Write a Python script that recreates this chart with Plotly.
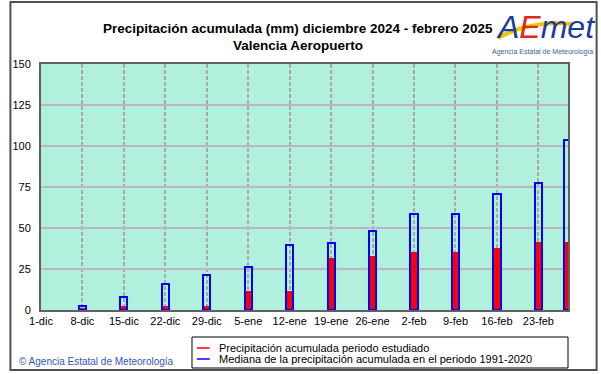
import plotly.graph_objects as go

# ---- data ----
dates = ["2024-12-08", "2024-12-15", "2024-12-22", "2024-12-29", "2025-01-05",
         "2025-01-12", "2025-01-19", "2025-01-26", "2025-02-02", "2025-02-09",
         "2025-02-16", "2025-02-23", "2025-02-28"]
observed = [1.4, 2.6, 2.6, 2.6, 11.6, 11.6, 31.7, 32.9, 35.5, 35.5, 37.8, 41.3, 41.5]
median = [2.4, 7.9, 15.7, 21.3, 26.0, 39.8, 41.0, 48.4, 58.5, 58.5, 70.9, 77.4, 103.9]
tick_dates = ["2024-12-01", "2024-12-08", "2024-12-15", "2024-12-22", "2024-12-29",
              "2025-01-05", "2025-01-12", "2025-01-19", "2025-01-26", "2025-02-02",
              "2025-02-09", "2025-02-16", "2025-02-23"]
tick_labels = ["1-dic", "8-dic", "15-dic", "22-dic", "29-dic", "5-ene", "12-ene",
               "19-ene", "26-ene", "2-feb", "9-feb", "16-feb", "23-feb"]
y_ticks = [0, 25, 50, 75, 100, 125, 150]
legend_labels = ["Precipitación acumulada periodo estudiado",
                 "Mediana de la precipitación acumulada en el periodo 1991-2020"]
title_lines = ["Precipitación acumulada (mm) diciembre 2024 - febrero 2025",
               "Valencia Aeropuerto"]

W, H = 601, 374
L, R, T, B = 34, 568, 64, 310
DAY = 86400000
FONT = "Liberation Sans, Arial, sans-serif"


def px(p):
    return (p - L) / (R - L)


def py(p):
    return (B - p) / (B - T)


fig = go.Figure()
fig.add_trace(go.Bar(x=dates, y=observed, width=[1.0 * DAY] * len(dates),
                     marker=dict(color="#ff0000", line=dict(width=0)),
                     showlegend=False))
fig.add_trace(go.Bar(x=dates, y=median, width=[1.2 * DAY] * len(dates),
                     marker=dict(color="rgba(0,0,0,0)", line=dict(color="#0000ff", width=2)),
                     showlegend=False))

shapes = []
annotations = []

# outer frame
shapes.append(dict(type="rect", xref="paper", yref="paper",
                   x0=px(3), x1=px(597), y0=py(2), y1=py(370),
                   line=dict(color="#505050", width=2)))

# legend box
shapes.append(dict(type="rect", xref="paper", yref="paper",
                   x0=px(187), x1=px(568), y0=py(337), y1=py(368),
                   line=dict(color="#000000", width=1), fillcolor="white"))
for yy, col, txt in [(348, "#ff0000", legend_labels[0]), (359, "#0000ff", legend_labels[1])]:
    shapes.append(dict(type="line", xref="paper", yref="paper",
                       x0=px(192), x1=px(205), y0=py(yy), y1=py(yy),
                       line=dict(color=col, width=1.5)))
    annotations.append(dict(text=txt, xref="paper", yref="paper",
                            x=px(212), y=py(yy), xanchor="left", yanchor="middle",
                            showarrow=False, font=dict(size=11, color="#000000", family=FONT)))

# title
for txt, yy in [(title_lines[0], 29), (title_lines[1], 46)]:
    annotations.append(dict(text="<b>" + txt + "</b>", xref="paper", yref="paper",
                            x=px(294), y=py(yy), xanchor="center", yanchor="middle",
                            showarrow=False,
                            font=dict(size=13.5, color="#000000", family=FONT)))

# copyright
annotations.append(dict(text="© Agencia Estatal de Meteorología", xref="paper", yref="paper",
                        x=px(10), y=py(361), xanchor="left", yanchor="middle",
                        showarrow=False,
                        font=dict(size=10, color="#3355bb", family=FONT)))

# logo
shapes.append(dict(type="path", xref="paper", yref="paper",
                   path="M {},{} Q {},{} {},{}".format(px(497), py(38), px(530), py(20),
                                                      px(572), py(24)),
                   line=dict(color="#f5c400", width=4)))
annotations.append(dict(text="<i><span style='color:#1a3c9c'>A</span>"
                             "<span style='color:#e02818'>E</span>"
                             "<span style='color:#1a3c9c'>met</span></i>",
                        xref="paper", yref="paper", x=px(545), y=py(27),
                        xanchor="center", yanchor="middle", showarrow=False,
                        font=dict(size=32, family=FONT)))
annotations.append(dict(text="Agencia Estatal de Meteorología", xref="paper", yref="paper",
                        x=px(542), y=py(52), xanchor="center", yanchor="middle",
                        showarrow=False,
                        font=dict(size=7, color="#4060a0", family=FONT)))

fig.update_layout(
    width=W, height=H,
    margin=dict(l=L, r=W - R, t=T, b=H - B, pad=0),
    paper_bgcolor="white",
    plot_bgcolor="#b0f0dc",
    barmode="overlay",
    bargap=0,
    showlegend=False,
    shapes=shapes,
    annotations=annotations,
    xaxis=dict(type="date", range=["2024-12-01", "2025-02-28"],
               tickmode="array", tickvals=tick_dates, ticktext=tick_labels,
               showgrid=True, gridcolor="#aaaaaa", gridwidth=1.5, griddash="4px,2px",
               showline=True, linecolor="#606060", linewidth=2, mirror=True,
               ticks="", tickfont=dict(size=11, color="#000000", family=FONT),
               fixedrange=True),
    yaxis=dict(range=[0, 150], tickmode="array", tickvals=y_ticks,
               showgrid=True, gridcolor="#bdb4c4", gridwidth=2, zeroline=False,
               showline=True, linecolor="#606060", linewidth=2, mirror=True,
               ticks="", ticklabelstandoff=6,
               tickfont=dict(size=11, color="#000000", family=FONT),
               fixedrange=True),
)

fig.write_html("out.html", config={"displayModeBar": False},
               post_script="document.body.style.margin='0';document.body.style.overflow='hidden';")
